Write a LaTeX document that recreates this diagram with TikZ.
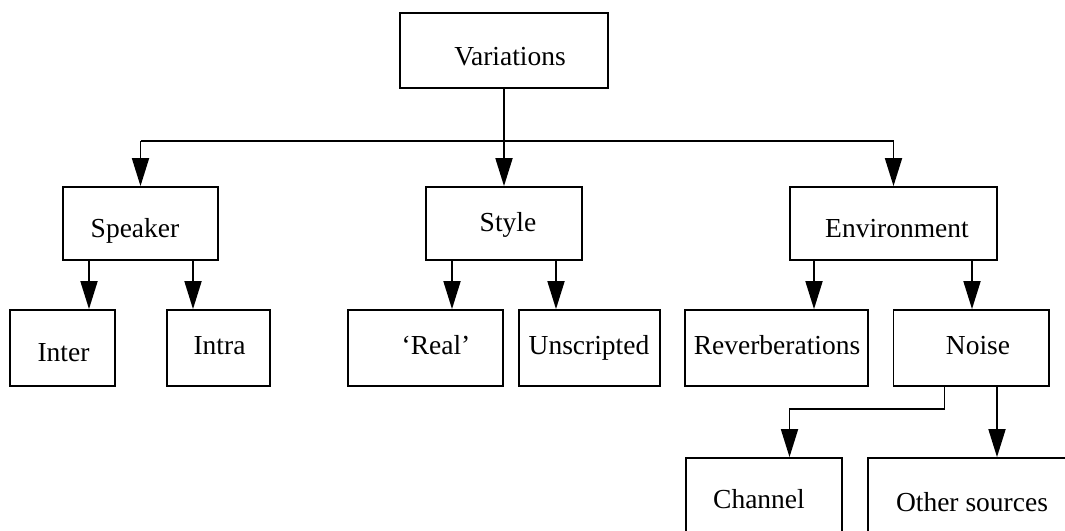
\documentclass[tikz,border=0pt]{standalone}
\usepackage{fontspec}
\setmainfont{Liberation Serif}
\usetikzlibrary{arrows.meta}
\begin{document}
\begin{tikzpicture}[x=1pt,y=-1pt,
  box/.style={draw, line width=1.8pt, inner sep=0pt},
  lbl/.style={font=\fontsize{27.5}{33}\selectfont, inner sep=0pt, anchor=base},
  conn/.style={line width=1.8pt},
  arr/.style={conn, -{Triangle[length=28pt,width=17pt]}}]
\clip (0,0) rectangle (1065,530);
% boxes
\node[box, minimum width=208pt, minimum height=75pt] (var) at (504,50.5) {};
\node[box, minimum width=155pt, minimum height=73pt] (speaker) at (140.5,223.5) {};
\node[box, minimum width=156pt, minimum height=73pt] (style) at (504,223.5) {};
\node[box, minimum width=207pt, minimum height=73pt] (env) at (893.5,223.5) {};
\node[box, minimum width=105pt, minimum height=76pt] (inter) at (62.5,348) {};
\node[box, minimum width=103pt, minimum height=76pt] (intra) at (218.5,348) {};
\node[box, minimum width=155pt, minimum height=76pt] (real) at (425.5,348) {};
\node[box, minimum width=141pt, minimum height=76pt] (unscr) at (589.5,348) {};
\node[box, minimum width=183pt, minimum height=76pt] (reverb) at (776.5,348) {};
\node[box, minimum width=155.5pt, minimum height=76pt] (noise) at (971.25,348) {};
\node[box, minimum width=156pt, minimum height=142pt] (channel) at (764,529) {};
\node[box, minimum width=232pt, minimum height=142pt] (other) at (984,529) {};
% labels
\node[lbl] (var-t) at (510,65) {Variations};
\node[lbl] (speaker-t) at (135,237) {Speaker};
\node[lbl] (style-t) at (508,231) {Style};
\node[lbl] (env-t) at (897,237) {Environment};
\node[lbl] (inter-t) at (63.5,361) {Inter};
\node[lbl] (intra-t) at (219.5,354) {Intra};
\node[lbl] (real-t) at (436,354) {‘Real’};
\node[lbl] (unscr-t) at (589,354) {Unscripted};
\node[lbl] (reverb-t) at (777,354) {Reverberations};
\node[lbl] (noise-t) at (978,354) {Noise};
\node[lbl] (channel-t) at (759,508) {Channel};
\node[lbl] (other-t) at (972,511) {Other sources};
% helper coordinates
\coordinate (barL) at (140.5,141);
\coordinate (barR) at (893.5,141);
\coordinate (xa) at (89,0);
\coordinate (xb) at (193,0);
\coordinate (xc) at (452,0);
\coordinate (xd) at (556,0);
\coordinate (xe) at (814,0);
\coordinate (xf) at (972,0);
\coordinate (xg) at (944.5,0);
\coordinate (bend) at (789.5,409);
\coordinate (xh) at (997,0);
% connectors
\draw[arr] (var.south) -- (style.north);
\draw[conn] (barL) -- (barR);
\draw[arr] (barL) -- (speaker.north);
\draw[arr] (barR) -- (env.north);
\draw[arr] (speaker.south -| xa) -- (inter.north -| xa);
\draw[arr] (speaker.south -| xb) -- (intra.north -| xb);
\draw[arr] (style.south -| xc) -- (real.north -| xc);
\draw[arr] (style.south -| xd) -- (unscr.north -| xd);
\draw[arr] (env.south -| xe) -- (reverb.north -| xe);
\draw[arr] (env.south -| xf) -- (noise.north -| xf);
\draw[arr] (noise.south -| xg) |- (bend) -- (channel.north -| bend);
\draw[arr] (noise.south -| xh) -- (other.north -| xh);
\end{tikzpicture}
\end{document}
